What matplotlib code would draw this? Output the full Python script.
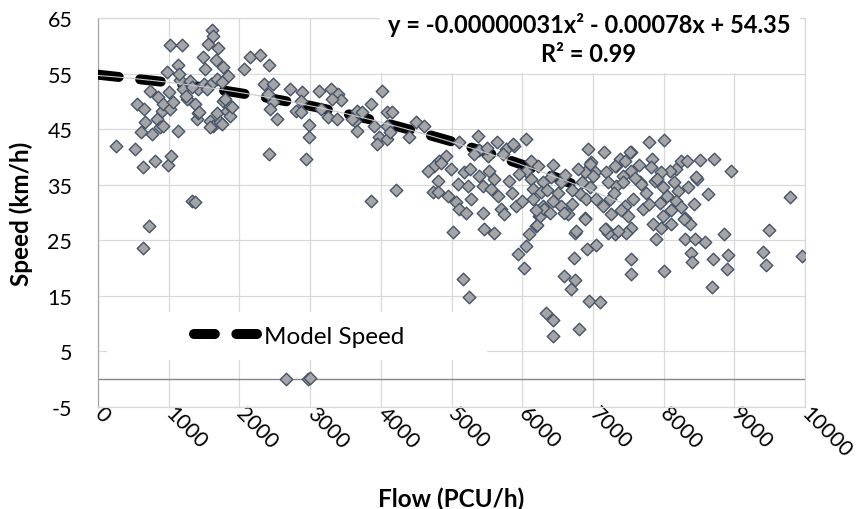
import numpy as np
import matplotlib
matplotlib.use("Agg")
import matplotlib.pyplot as plt
from matplotlib.patches import Rectangle

plt.rcParams["font.family"] = ["Lato", "DejaVu Sans"]
plt.rcParams["lines.scale_dashes"] = False
plt.rcParams["axes.unicode_minus"] = False

flow = [
    255, 525, 635, 808, 990, 1035, 640, 723, 1330, 1365,
    545, 655, 615, 665, 760, 730, 850, 830, 875, 900, 920, 970, 1000, 1015,
    1020, 1135, 1135, 1160, 1190, 1205, 1255, 1300, 1370, 1395, 1420, 1420,
    1490, 1500, 1520, 1560, 1585, 1600, 1615, 1630, 1630, 1665, 1680, 1680,
    1700, 1725, 1775, 1775, 1820, 1845, 1865, 1870, 1890, 2065, 1330, 1430,
    1540, 1590, 1750, 1790, 1755, 925, 1060, 1150, 1240,
    2156, 2298, 2416, 2354, 2477, 2402, 2473, 2430, 2525, 2714, 2888, 2865,
    2794, 2874, 2983, 2983, 3125, 3290, 3394, 3442, 3314, 3253, 3375, 3148,
    2416, 2936, 3668, 3631, 3659, 3857, 4023, 3905, 3976, 3952, 4094, 4094,
    4094, 3857, 3738, 3597, 4131, 2660, 2975, 2995,
    4165, 4495, 4614, 4401, 4212, 5110, 5370, 5644, 5394, 5512, 5772, 4921,
    4826, 4755, 4661, 4992, 5181, 5266, 4803, 4732, 4945, 5086, 5228, 5394,
    5536, 5441, 5275, 5063, 5110, 5205, 5016, 5441, 5464, 5606, 5606, 5560,
    5654, 5701, 5157, 5251, 5738, 5322, 5724, 4849, 4802, 5500,
    5889, 6055, 5866, 6126, 6220, 6055, 5960, 5818, 6126, 6291, 6433, 6409,
    6551, 6149, 6267, 5913, 6149, 6291, 6433, 6551, 6645, 6244, 6196, 6102,
    6055, 6740, 6882, 6929, 6976, 7023, 6882, 6787, 6953, 7000, 6811, 6953,
    6905, 5937, 6022, 6211, 6258, 6315, 6338, 6433, 6433, 6598, 6749, 6684,
    6730, 6797, 6754, 6920, 7047, 6939, 7100, 6598, 6882, 6350, 6500, 6700,
    6600, 6200, 6000, 5850, 6700, 6850, 6400,
    7151, 7047, 7142, 7237, 7260, 7189, 7307, 7331, 7378, 7425, 7331, 7790,
    8007, 7534, 7837, 8253, 8338, 8513, 8716, 8952, 8466, 8622, 8432, 8182,
    8087, 7960, 7818, 7544, 7449, 7662, 7426, 7875, 7993, 8206, 8182, 7946,
    7709, 7567, 7449, 7497, 7993, 8300, 8371, 7851, 7969, 8111, 7544, 7473,
    7898, 8300, 8442, 8584, 8858, 7534, 7544, 8007, 8385, 8404, 8702, 8688,
    8905, 8891, 9411, 9444, 9491, 9955, 9789, 8290, 7213, 7355, 7166, 7520,
    7307, 7189, 7686, 8465, 7213, 7600, 7750, 8050, 8350, 7300, 7650, 7900,
    8150, 7400, 7800, 8100, 8250,
]
speed = [
    41.9, 41.4, 38.2, 39.2, 38.6, 40.1, 23.7, 27.5, 32.1, 31.9,
    49.5, 48.6, 44.4, 46.2, 44.1, 51.9, 50.7, 46.8, 45.3, 48.3, 49.5, 55.2, 51.6, 48.6,
    60.2, 56.5, 44.6, 53.9, 60.2, 52.2, 50.4, 53.7, 49.5, 46.8, 47.9, 52.2,
    57.9, 53.1, 55.9, 60.4, 46.5, 53.1, 62.8, 61.7, 45.6, 57.5, 54.1, 47.9,
    59.6, 46.2, 56.2, 50.1, 48.3, 54.6, 49.2, 47.4, 48.9, 55.8, 52.5, 48.0,
    52.2, 45.3, 45.9, 50.4, 53.4, 45.6, 49.8, 55.0, 51.0,
    58.0, 58.3, 56.5, 53.1, 53.2, 51.3, 49.8, 48.7, 46.9, 52.2, 51.7, 50.1,
    48.3, 48.0, 45.7, 43.5, 51.9, 52.2, 51.3, 50.2, 50.5, 47.2, 46.9, 48.6,
    40.5, 39.7, 48.3, 46.5, 44.7, 49.6, 51.9, 45.6, 43.5, 42.3, 48.0, 45.6,
    43.2, 32.1, 48.0, 46.8, 44.4, 0.0, 0.0, 0.2,
    48.1, 46.2, 45.6, 43.5, 34.1, 42.6, 43.8, 42.7, 41.3, 40.2, 41.4, 40.2,
    39.3, 38.4, 37.5, 37.8, 37.2, 37.9, 35.7, 33.6, 33.0, 35.1, 34.8, 36.6,
    37.5, 34.8, 32.5, 31.8, 30.6, 30.0, 26.5, 30.0, 27.0, 26.4, 36.0, 34.2,
    33.0, 30.6, 18.0, 14.8, 29.7, 40.5, 40.5, 38.9, 33.6, 41.6,
    42.0, 43.2, 42.3, 39.3, 38.4, 37.5, 36.9, 35.7, 36.0, 35.4, 38.5, 36.3,
    35.4, 34.2, 33.6, 31.2, 32.4, 31.2, 32.1, 31.2, 29.7, 29.4, 27.6, 26.1,
    24.0, 26.4, 29.1, 41.4, 39.0, 37.2, 37.2, 37.8, 38.7, 36.6, 33.3, 34.5,
    32.4, 22.5, 20.1, 27.7, 29.3, 30.6, 12.0, 10.7, 7.8, 18.5, 17.8, 16.2,
    21.9, 9.1, 26.7, 23.4, 24.1, 14.1, 13.9, 30.0, 28.8, 34.0, 33.5, 34.0,
    36.8, 30.5, 32.0, 33.5, 31.5, 35.5, 30.0,
    40.9, 32.4, 31.2, 32.4, 29.7, 27.0, 26.1, 38.4, 39.6, 36.6, 34.8, 42.6,
    43.0, 40.9, 39.6, 39.3, 39.3, 39.4, 39.6, 37.5, 36.0, 33.3, 31.5, 37.8,
    37.5, 37.2, 38.1, 37.5, 39.3, 35.4, 35.4, 35.7, 34.5, 33.9, 32.1, 31.7,
    30.6, 32.4, 31.2, 29.4, 29.4, 29.1, 27.9, 27.9, 27.3, 27.9, 27.3, 26.4,
    25.2, 25.2, 25.2, 24.7, 26.1, 21.7, 19.0, 19.5, 22.8, 21.1, 21.7, 16.6,
    22.3, 19.8, 22.9, 20.5, 26.8, 22.1, 32.7, 28.9, 26.4, 26.7, 27.0, 40.8,
    38.4, 37.2, 35.1, 36.4, 35.5, 36.2, 33.5, 33.0, 34.5, 33.5, 38.5, 36.0,
    35.5, 30.5, 31.5, 30.5, 31.0,
]

# ── model speed series (dashed curve) ────────────────────────────────────
model_flow = [0, 500, 1000, 1500, 2000, 2500, 3000, 3500, 4000, 4500,
              5000, 5500, 6000, 6500, 6800]
model_speed = [54.8, 54.1, 53.4, 52.5, 51.5, 50.4, 49.2, 47.8, 46.3, 44.6,
               42.8, 40.8, 38.6, 36.2, 34.7]

x_ticks = list(range(0, 10001, 1000))
y_ticks = list(range(-5, 66, 10))
eq_line1 = "y = -0.00000031x² - 0.00078x + 54.35"
eq_line2 = "R² = 0.99"

fig = plt.figure(figsize=(8.6, 5.1), dpi=100)
ax = fig.add_axes([98 / 860, 102 / 510, 707 / 860, 389 / 510])

ax.set_xlim(0, 10000)
ax.set_ylim(-5, 65)
ax.set_xticks(x_ticks)
ax.set_yticks(y_ticks)
ax.grid(True, color="#d9d9d9", lw=0.9)
ax.set_axisbelow(True)
for side in ["top", "right", "bottom"]:
    ax.spines[side].set_color("#d9d9d9")
    ax.spines[side].set_linewidth(0.9)
ax.spines["left"].set_color("#a6a6a6")
ax.spines["left"].set_linewidth(0.9)

ax.tick_params(length=0, labelsize=15.5)
ax.tick_params(axis="y", pad=18.5)
ax.tick_params(axis="x", pad=2)
for lbl in ax.get_xticklabels():
    lbl.set_rotation(-45)
    lbl.set_ha("left")
    lbl.set_va("center")
    lbl.set_rotation_mode("anchor")

# axis line at speed 0
ax.axhline(0, color="#868686", lw=1.0, zorder=1.5)

# white boxes behind legend and equation (hide gridlines)
ax.add_patch(Rectangle((0.0127, 0.1208), 0.5375, 0.1234, transform=ax.transAxes,
                       facecolor="white", edgecolor="none", zorder=2.6))
ax.add_patch(Rectangle((0.3989, 0.8586), 0.594, 0.15, transform=ax.transAxes,
                       facecolor="white", edgecolor="none", zorder=5, clip_on=False))

ax.plot(model_flow, model_speed, color="black", lw=7.2, dashes=(15, 15.5),
        dash_capstyle="round", label="Model Speed", zorder=2.8)

ax.scatter(flow, speed, marker="D", s=6.4 ** 2, facecolor="#a5a5a5",
           edgecolor="#44546a", linewidths=1.0, zorder=3)

# polynomial trendline of the model series
coef = np.polyfit(model_flow, model_speed, 2)
xt = np.linspace(0, 7400, 200)
ax.plot(xt, np.polyval(coef, xt), color="#c8c8c8", lw=0.8, zorder=4)

ax.text(0.6945, 0.9846, eq_line1, transform=ax.transAxes, ha="center", va="center",
        fontsize=17, fontweight="bold", zorder=6)
ax.text(0.6945, 0.91, eq_line2, transform=ax.transAxes, ha="center", va="center",
        fontsize=17, fontweight="bold", zorder=6)

ax.legend(loc="center left", bbox_to_anchor=(0.1358, 0.1825), frameon=False,
          borderpad=0, borderaxespad=0, handlelength=2.6, handletextpad=0.29,
          fontsize=17.5)

ax.set_xlabel("Flow (PCU/h)", fontsize=17.5, fontweight="bold")
ax.set_ylabel("Speed (km/h)", fontsize=17.5, fontweight="bold")
ax.xaxis.set_label_coords(0.5, -0.2057)
ax.yaxis.set_label_coords(-0.092, 0.5)

fig.savefig("out.png", dpi=100)
